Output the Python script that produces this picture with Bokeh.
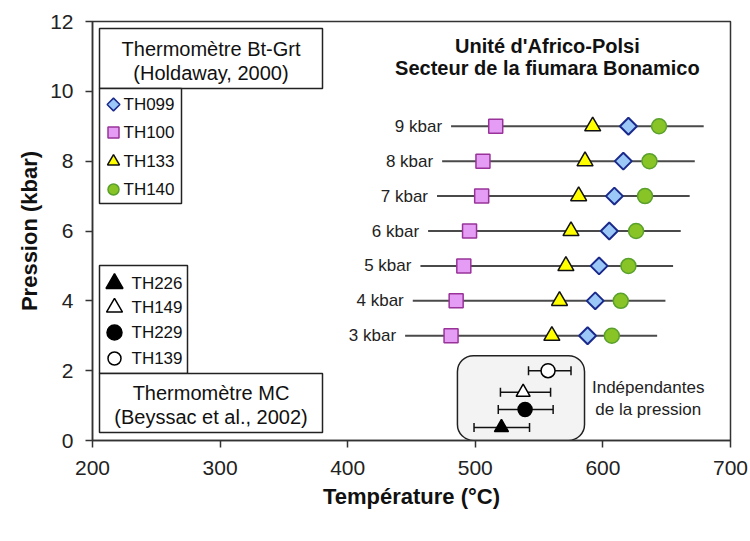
import math
from bokeh.plotting import figure
from bokeh.models import (ColumnDataSource, BoxAnnotation, Whisker, TeeHead,
                          FixedTicker, Range1d)
from bokeh.core.properties import value
from bokeh.embed import file_html
from bokeh.resources import INLINE

# ---- Bt-Grt thermometer (Holdaway, 2000): temperature at each pressure ----
pressures = [3, 4, 5, 6, 7, 8, 9]
p_labels = ["3 kbar", "4 kbar", "5 kbar", "6 kbar", "7 kbar", "8 kbar", "9 kbar"]
range_lo = [445, 451, 457, 463, 470, 474, 481]
range_hi = [642.5, 649, 655, 661, 668, 672, 679]
th099 = [588, 594, 597, 605, 609, 616, 620]
th100 = [481, 485, 491, 495.5, 505, 506, 516]
th133 = [560, 566, 571, 575, 581, 586, 592]
th140 = [607, 614, 620, 626, 633, 636.5, 644]

# ---- MC thermometer (Beyssac et al., 2002): pressure independent ----
mc_names = ["TH139", "TH149", "TH229", "TH226"]
mc_temp = [557, 537.5, 539, 520.5]
mc_lo = [541.7, 519.7, 518, 499]
mc_hi = [575, 559, 561, 542.5]
mc_row = [2.0, 1.38, 0.89, 0.37]

x_ticks = [200, 300, 400, 500, 600, 700]
y_ticks = [0, 2, 4, 6, 8, 10, 12]

FONT = "Liberation Sans"

# frame geometry (pixels) used to place the framed legend blocks
FL, FR, FT, FB = 92, 730, 21, 440
W, H = 750, 541


def dx(px):
    return 200 + (px - FL) * 500.0 / (FR - FL)


def dy(py):
    return 12 - (py - FT) * 12.0 / (FB - FT)


p = figure(width=W, height=H, output_backend="svg", toolbar_location=None,
           x_range=Range1d(200, 700), y_range=Range1d(0, 12),
           min_border_left=FL, min_border_right=W - FR,
           min_border_top=FT, min_border_bottom=H - FB)
p.xgrid.visible = False
p.ygrid.visible = False
p.outline_line_color = "#333333"
p.outline_line_width = 1.5
p.outline_line_alpha = 1
p.background_fill_color = "white"
p.border_fill_color = "white"

for ax in (p.xaxis[0], p.yaxis[0]):
    ax.axis_line_color = "#333333"
    ax.axis_line_width = 1.5
    ax.major_tick_line_color = "#333333"
    ax.major_tick_line_width = 1.5
    ax.major_tick_out = 7
    ax.major_tick_in = 0
    ax.minor_tick_line_color = None
    ax.major_label_text_font = FONT
    ax.major_label_text_font_size = "21px"
    ax.major_label_text_color = "#222222"
    ax.axis_label_text_font = FONT
    ax.axis_label_text_font_size = "22px"
    ax.axis_label_text_font_style = "bold"
    ax.axis_label_text_color = "#111111"

p.xaxis.ticker = FixedTicker(ticks=x_ticks)
p.yaxis.ticker = FixedTicker(ticks=y_ticks)
p.xaxis.axis_label = "Température (°C)"
p.yaxis.axis_label = "Pression (kbar)"
p.xaxis.major_label_standoff = 13
p.yaxis.major_label_standoff = 12
p.xaxis.axis_label_standoff = 6
p.yaxis.axis_label_standoff = 5

# ---- rounded panel around pressure-independent estimates ----
p.add_layout(BoxAnnotation(left=486, right=585.6, bottom=0, top=2.43,
                           fill_color="#f3f3f3", fill_alpha=1,
                           line_color="#222222", line_alpha=1, line_width=1.5,
                           border_radius=16, level="underlay"))

# ---- framed legend blocks ----
def frame_box(l, t, r, b):
    p.add_layout(BoxAnnotation(left=dx(l), right=dx(r), top=dy(t), bottom=dy(b),
                               fill_color="white", fill_alpha=1,
                               line_color="#222222", line_alpha=1, line_width=1.5,
                               level="underlay"))

frame_box(99, 28, 322, 88)
frame_box(99, 88, 181, 203)
frame_box(99, 265, 187, 373)
frame_box(99, 373, 322, 432)

# ---- Bt-Grt range lines and markers ----
bt = ColumnDataSource(dict(p=pressures, lab=p_labels, lo=range_lo, hi=range_hi,
                           th099=th099, th100=th100, th133=th133, th140=th140))
p.segment(x0="lo", x1="hi", y0="p", y1="p", source=bt,
          line_color="#4a4a4a", line_width=2)
p.text(x="lo", y="p", text="lab", source=bt, x_offset=-9,
       text_align="right", text_baseline="middle",
       text_font=value(FONT), text_font_size="17px", text_color="#222222")

STY = {
    "TH100": dict(marker="square", size=14, angle=0, fill_color="#e49cf5",
                  line_color="#993399", line_width=1.5),
    "TH133": dict(marker="triangle", size=16, angle=0, fill_color="#ffff00",
                  line_color="#111111", line_width=1.5),
    "TH099": dict(marker="square", size=12, angle=math.pi / 4, fill_color="#9cc8f8",
                  line_color="#1a2a8c", line_width=2),
    "TH140": dict(marker="circle", size=15, angle=0, fill_color="#88c425",
                  line_color="#5aa02d", line_width=1.5),
}
for key, col in (("TH100", "th100"), ("TH133", "th133"),
                 ("TH099", "th099"), ("TH140", "th140")):
    p.scatter(x=col, y="p", source=bt, **STY[key])

# ---- MC estimates with error bars ----
mc = ColumnDataSource(dict(name=mc_names, t=mc_temp, lo=mc_lo, hi=mc_hi, y=mc_row))
p.add_layout(Whisker(source=mc, base="y", lower="lo", upper="hi", dimension="width",
                     line_color="#111111", line_width=1.5, level="underlay",
                     upper_head=TeeHead(size=9, line_color="#111111", line_width=1.5),
                     lower_head=TeeHead(size=9, line_color="#111111", line_width=1.5)))
MC_STY = {
    "TH139": dict(marker="circle", fill_color="white"),
    "TH149": dict(marker="triangle", fill_color="white"),
    "TH229": dict(marker="circle", fill_color="black"),
    "TH226": dict(marker="triangle", fill_color="black"),
}
for i, name in enumerate(mc_names):
    s = MC_STY[name]
    p.scatter(x=[mc_temp[i]], y=[mc_row[i]], marker=s["marker"], size=14,
              fill_color=s["fill_color"], line_color="black", line_width=1.5)

# ---- texts ----
def txt(x, y, t, size, style="normal", align="center", color="#111111"):
    p.text(x=[x], y=[y], text=[t], text_align=align, text_baseline="middle",
           text_font=value(FONT), text_font_size=size, text_font_style=style,
           text_color=color)

txt(556.5, dy(45), "Unité d'Africo-Polsi", "20px", "bold")
txt(556.5, dy(67), "Secteur de la fiumara Bonamico", "20px", "bold")
txt(635.5, dy(387), "Indépendantes", "17px", color="#222222")
txt(635.5, dy(409), "de la pression", "17px", color="#222222")
txt(dx(210.5), dy(48), "Thermomètre Bt-Grt", "20px")
txt(dx(210.5), dy(72), "(Holdaway, 2000)", "20px")
txt(dx(210.5), dy(392), "Thermomètre MC", "20px")
txt(dx(210.5), dy(416), "(Beyssac et al., 2002)", "20px")

# ---- legend swatches ----
leg1 = [("TH099", 104), ("TH100", 132), ("TH133", 161), ("TH140", 189)]
leg1_size = {"TH099": 9, "TH100": 11, "TH133": 12, "TH140": 11}
for name, py in leg1:
    s = dict(STY[name])
    s["size"] = leg1_size[name]
    s["line_width"] = 1.5
    p.scatter(x=[dx(113)], y=[dy(py)], **s)
    txt(dx(123), dy(py), name, "17px", align="left")

leg2 = [("TH226", 283), ("TH149", 307), ("TH229", 332), ("TH139", 358)]
leg2_size = {"TH226": 17, "TH149": 16, "TH229": 15, "TH139": 13}
for name, py in leg2:
    s = MC_STY[name]
    p.scatter(x=[dx(114)], y=[dy(py)], marker=s["marker"], size=leg2_size[name],
              fill_color=s["fill_color"], line_color="black", line_width=1.5)
    txt(dx(131), dy(py), name, "17px", align="left")

open("out.html", "w").write(file_html(p, INLINE))
